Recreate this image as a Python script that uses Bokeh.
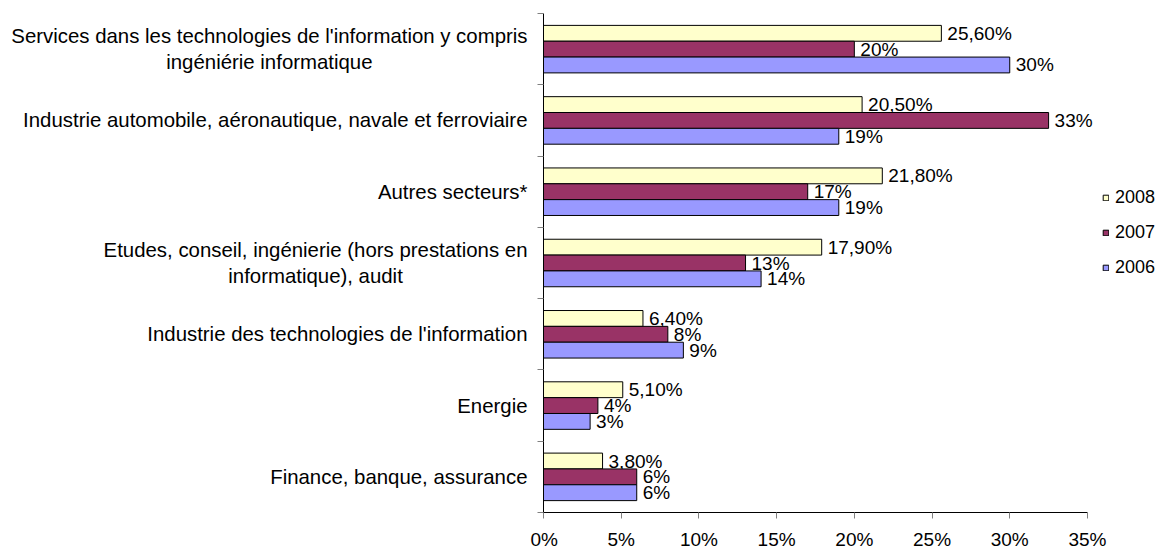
from bokeh.plotting import figure
from bokeh.layouts import row
from bokeh.models import Range1d, FixedTicker, Legend, LegendItem, ColumnDataSource
from bokeh.embed import file_html
from bokeh.resources import INLINE
from bokeh.core.properties import value

categories = [
    "Services dans les technologies de l'information y compris\ningéniérie informatique",
    "Industrie automobile, aéronautique, navale et ferroviaire",
    "Autres secteurs*",
    "Etudes, conseil, ingénierie (hors prestations en\ninformatique), audit",
    "Industrie des technologies de l'information",
    "Energie",
    "Finance, banque, assurance",
]
series_names = ["2008", "2007", "2006"]
values_2008 = [25.6, 20.5, 21.8, 17.9, 6.4, 5.1, 3.8]
values_2007 = [20, 32.5, 17, 13, 8, 3.5, 6]
values_2006 = [30, 19, 19, 14, 9, 3, 6]
labels_2008 = ["25,60%", "20,50%", "21,80%", "17,90%", "6,40%", "5,10%", "3,80%"]
labels_2007 = ["20%", "33%", "17%", "13%", "8%", "4%", "6%"]
labels_2006 = ["30%", "19%", "19%", "14%", "9%", "3%", "6%"]
x_ticks = [0, 5, 10, 15, 20, 25, 30, 35]
x_tick_labels = ["0%", "5%", "10%", "15%", "20%", "25%", "30%", "35%"]
colors = ["#FFFFCC", "#993366", "#9999FF"]

FONT = "Liberation Sans"
n = len(categories)
centers = [n - i - 0.5 for i in range(n)]
bar_h = 1 / 4.5
offsets = [bar_h, 0, -bar_h]

TOTAL_W, TOTAL_H = 1161, 552
LEFT_W = 530
TOP, BOTTOM = 13, 40
shared_y = Range1d(0, n)

# ---- category label strip (left) ----
lf = figure(width=LEFT_W, height=TOTAL_H, x_range=Range1d(0, LEFT_W), y_range=shared_y,
            output_backend="svg", toolbar_location=None,
            x_axis_location=None, y_axis_location=None,
            min_border_left=0, min_border_right=0, min_border_top=TOP, min_border_bottom=BOTTOM)
lf.outline_line_color = None
lf.xgrid.visible = False
lf.ygrid.visible = False
LABEL_RIGHT = 527
lsrc = ColumnDataSource(dict(x=[LABEL_RIGHT] * n, y=centers, t=categories))
lf.text(x="x", y="y", text="t", source=lsrc, anchor=value("center_right"),
        text_align="center", text_baseline="middle",
        text_font=value(FONT), text_font_size="20.4px", text_color="black",
        text_line_height=1.2)

# ---- main chart ----
# frame extends past 35% (axis bounded at 35%) so labels and legend have room
p = figure(width=TOTAL_W - LEFT_W, height=TOTAL_H, x_range=Range1d(0, 39.7), y_range=shared_y,
           output_backend="svg", toolbar_location=None,
           min_border_left=13, min_border_right=1, min_border_top=TOP, min_border_bottom=BOTTOM)
p.outline_line_color = None
p.xgrid.visible = False
p.ygrid.visible = False

xa = p.xaxis[0]
xa.ticker = FixedTicker(ticks=x_ticks)
xa.bounds = (0, 35)
xa.major_label_overrides = {t: l for t, l in zip(x_ticks, x_tick_labels)}
xa.major_tick_out = 6
xa.major_tick_in = 0
xa.minor_tick_out = 0
xa.minor_tick_in = 0
xa.axis_line_color = "black"
xa.major_tick_line_color = "#808080"
xa.major_label_text_font = FONT
xa.major_label_text_font_size = "19px"
xa.major_label_text_color = "black"
xa.major_label_standoff = 10

ya = p.yaxis[0]
ya.ticker = FixedTicker(ticks=list(range(n + 1)))
ya.major_label_overrides = {i: "" for i in range(n + 1)}
ya.major_tick_out = 6
ya.major_tick_in = 0
ya.minor_tick_out = 0
ya.minor_tick_in = 0
ya.axis_line_color = "black"
ya.major_tick_line_color = "#808080"

series_vals = [values_2008, values_2007, values_2006]
series_labels = [labels_2008, labels_2007, labels_2006]
renderers = []
for k in range(3):
    ys = [c + offsets[k] for c in centers]
    src = ColumnDataSource(dict(y=ys, v=series_vals[k], t=series_labels[k]))
    r = p.hbar(y="y", right="v", left=0, height=bar_h, source=src,
               fill_color=colors[k], line_color="black", line_width=1)
    renderers.append(r)
    p.text(x="v", y="y", text="t", source=src, x_offset=6,
           text_font=value(FONT), text_font_size="19px", text_color="black",
           text_align="left", text_baseline="middle")

legend = Legend(items=[LegendItem(label=s, renderers=[r]) for s, r in zip(series_names, renderers)],
                location=(559, 234), glyph_width=7, glyph_height=7, label_standoff=6,
                label_text_font=FONT, label_text_font_size="18px", label_text_color="black",
                label_height=21, spacing=14, padding=0, margin=0, border_line_color=None,
                background_fill_alpha=0)
p.add_layout(legend, "center")

layout = row(lf, p)
open("out.html", "w").write(file_html(layout, INLINE))
